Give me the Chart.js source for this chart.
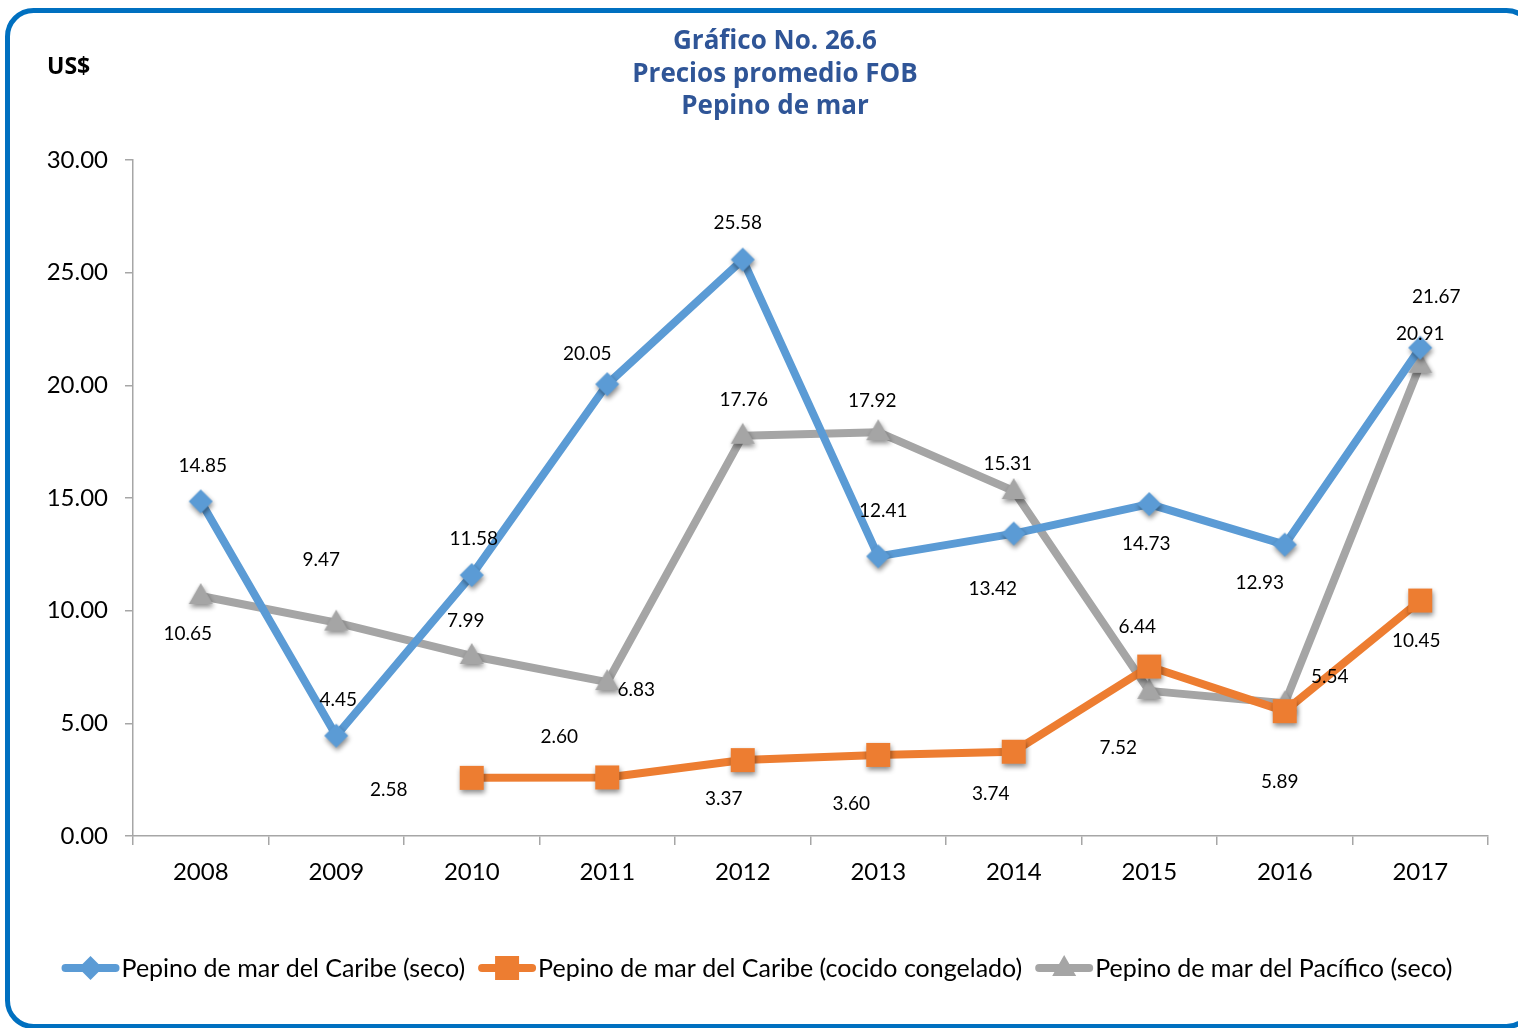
<!DOCTYPE html>
<html>
<head>
<meta charset="utf-8">
<script src="https://cdn.jsdelivr.net/npm/chart.js@4.4.1/dist/chart.umd.min.js"></script>
<style>
  html, body { margin: 0; padding: 0; background: #fff; }
  canvas { display: block; }
</style>
</head>
<body>
<canvas id="grafico" width="1518" height="1028"></canvas>
<script>
// datos
const years = ['2008', '2009', '2010', '2011', '2012', '2013', '2014', '2015', '2016', '2017'];
const caribeSeco = [14.85, 4.45, 11.58, 20.05, 25.58, 12.41, 13.42, 14.73, 12.93, 21.67];
const caribeCocido = [null, null, 2.58, 2.60, 3.37, 3.60, 3.74, 7.52, 5.54, 10.45];
const pacificoSeco = [10.65, 9.47, 7.99, 6.83, 17.76, 17.92, 15.31, 6.44, 5.89, 20.91];
const yTicks = [0, 5, 10, 15, 20, 25, 30];

const titleLines = ['Gráfico No. 26.6', 'Precios promedio FOB', 'Pepino de mar'];
const FONT = 'Lato, "Open Sans", sans-serif';

const azul = '#5b9bd5';
const naranja = '#ed7d31';
const gris = '#a5a5a5';
const ejes = '#a6a6a6';

function marcador(ctx, tipo, x, y, color) {
    ctx.fillStyle = color;
    ctx.beginPath();
    if (tipo === 'diamante') {
        ctx.moveTo(x, y - 12); ctx.lineTo(x + 12, y); ctx.lineTo(x, y + 12); ctx.lineTo(x - 12, y);
    } else if (tipo === 'cuadro') {
        ctx.rect(x - 12, y - 12, 24, 24);
    } else {
        ctx.moveTo(x, y - 13); ctx.lineTo(x + 12, y + 8); ctx.lineTo(x - 12, y + 8);
    }
    ctx.closePath();
    ctx.fill();
}

// marcador con sombra, como imagen para pointStyle
function imagenMarcador(tipo, color) {
    const c = document.createElement('canvas');
    c.width = 44; c.height = 44;
    const ctx = c.getContext('2d');
    ctx.shadowColor = 'rgba(0,0,0,0.45)';
    ctx.shadowBlur = 5;
    ctx.shadowOffsetX = 1;
    ctx.shadowOffsetY = 3;
    marcador(ctx, tipo, 22, 22, color);
    return c;
}

// marco azul, titulo y "US$"
const marco = {
    id: 'marco',
    beforeDraw(chart) {
        const ctx = chart.ctx;
        ctx.save();
        ctx.fillStyle = '#fff';
        ctx.fillRect(0, 0, chart.width, chart.height);
        ctx.strokeStyle = '#0070c0';
        ctx.lineWidth = 5;
        ctx.beginPath();
        ctx.roundRect(7.5, 10.5, 1525, 1016, 26);
        ctx.stroke();
        ctx.restore();
    },
    afterDraw(chart) {
        const ctx = chart.ctx;
        ctx.save();
        ctx.fillStyle = '#2f5597';
        ctx.font = 'bold 26px "Open Sans", sans-serif';
        ctx.textAlign = 'center';
        ctx.textBaseline = 'middle';
        titleLines.forEach((t, i) => ctx.fillText(t, 775, 42 + i * 32.5));
        ctx.fillStyle = '#000';
        ctx.font = 'bold 23px "Open Sans", sans-serif';
        ctx.textAlign = 'left';
        ctx.fillText('US$', 47, 67);
        ctx.restore();
    }
};

// etiquetas de datos, cada una desplazada como en el original
const etiquetas = {
    id: 'etiquetas',
    afterDatasetsDraw(chart) {
        const ctx = chart.ctx;
        ctx.save();
        ctx.font = '19px ' + FONT;
        ctx.fillStyle = '#000';
        ctx.textAlign = 'center';
        ctx.textBaseline = 'middle';
        chart.data.datasets.forEach((ds, i) => {
            const meta = chart.getDatasetMeta(i);
            meta.data.forEach((pt, j) => {
                const v = ds.data[j];
                if (v === null) return;
                const d = ds.labelShift[j];
                ctx.fillText(v.toFixed(2), pt.x + d[0], pt.y + d[1]);
            });
        });
        ctx.restore();
    }
};

// leyenda abajo: linea + marcador + texto
const leyenda = {
    id: 'leyenda',
    afterDraw(chart) {
        const ctx = chart.ctx;
        ctx.save();
        ctx.font = '25px ' + FONT;
        ctx.textBaseline = 'middle';
        const ds = chart.data.datasets;
        const anchos = ds.map(d => ctx.measureText(d.label).width);
        const total = anchos.reduce((a, b) => a + b, 0) + ds.length * 60 + (ds.length - 1) * 13;
        let x = 757 - total / 2;
        const y = 968;
        ds.forEach((d, i) => {
            ctx.strokeStyle = d.borderColor;
            ctx.lineWidth = 8;
            ctx.lineCap = 'round';
            ctx.beginPath();
            ctx.moveTo(x + 4, y);
            ctx.lineTo(x + 54, y);
            ctx.stroke();
            marcador(ctx, d.forma, x + 29, y, d.borderColor);
            ctx.fillStyle = '#000';
            ctx.fillText(d.label, x + 60, y + 1);
            x += 60 + anchos[i] + 13;
        });
        ctx.restore();
    }
};

new Chart(document.getElementById('grafico'), {
    type: 'line',
    data: {
        labels: years,
        datasets: [
            {
                label: 'Pepino de mar del Caribe (seco)',
                data: caribeSeco,
                borderColor: azul,
                backgroundColor: azul,
                forma: 'diamante',
                pointStyle: imagenMarcador('diamante', azul),
                labelShift: [[2, -36], [2, -36], [2, -36], [-20, -30], [-5, -37], [5, -45], [-21, 55], [-3, 40], [-25, 38], [16, -51]]
            },
            {
                label: 'Pepino de mar del Caribe (cocido congelado)',
                data: caribeCocido,
                borderColor: naranja,
                backgroundColor: naranja,
                forma: 'cuadro',
                pointStyle: imagenMarcador('cuadro', naranja),
                labelShift: [[0, 0], [0, 0], [-83, 12], [-48, -41], [-19, 39], [-27, 49], [-23, 42], [-31, 81], [45, -34], [-4, 40]]
            },
            {
                label: 'Pepino de mar del Pacífico (seco)',
                data: pacificoSeco,
                borderColor: gris,
                backgroundColor: gris,
                forma: 'triangulo',
                pointStyle: imagenMarcador('triangulo', gris),
                labelShift: [[-13, 38], [-15, -63], [-6, -35], [29, 8], [1, -36], [-6, -31], [-6, -27], [-12, -64], [-5, 79], [0, -31]]
            }
        ]
    },
    options: {
        responsive: false,
        animation: false,
        devicePixelRatio: 1,
        layout: { padding: { top: 160, left: 0, right: 30, bottom: 0 } },
        elements: {
            line: { borderWidth: 8, tension: 0, borderJoinStyle: 'round' },
            point: { radius: 12, borderWidth: 0, hoverRadius: 12 }
        },
        plugins: {
            legend: { display: false },
            title: { display: false },
            tooltip: { enabled: false }
        },
        scales: {
            x: {
                type: 'category',
                offset: true,
                grid: { display: true, drawOnChartArea: false, offset: true, tickLength: 9, color: ejes, lineWidth: 1.5 },
                border: { display: true, color: ejes, width: 1.5 },
                ticks: { color: '#000', font: { family: FONT, size: 24 }, padding: 13, maxRotation: 0 },
                afterFit(s) { s.height = 192; s.paddingLeft = 0; s.paddingRight = 0; }
            },
            y: {
                min: 0,
                max: 30,
                afterBuildTicks(s) { s.ticks = yTicks.map(v => ({ value: v })); },
                grid: { display: true, drawOnChartArea: false, tickLength: 8, color: ejes, lineWidth: 1.5 },
                border: { display: true, color: ejes, width: 1.5 },
                ticks: {
                    color: '#000',
                    font: { family: FONT, size: 24 },
                    padding: 17,
                    callback: v => v.toFixed(2)
                },
                afterFit(s) { s.width = 133; s.paddingTop = 0; s.paddingBottom = 0; }
            }
        }
    },
    plugins: [marco, etiquetas, leyenda]
});
</script>
</body>
</html>
